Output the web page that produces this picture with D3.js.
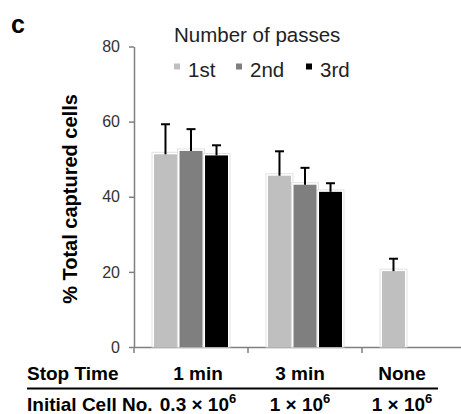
<!DOCTYPE html>
<html>
<head>
<meta charset="utf-8">
<script src="https://cdn.jsdelivr.net/npm/d3@7"></script>
<style>
  body { margin: 0; background: #fff; }
  svg { display: block; font-family: "Liberation Sans", Arial, sans-serif; }
</style>
</head>
<body>
<div id="chart"></div>
<script>
// data
var categories = ["1 min", "3 min", "None"];
var series = ["1st", "2nd", "3rd"];
var colors = ["#bfbfbf", "#7f7f7f", "#000000"];
var means = [
	[51.3, 45.6, 20.2],   /*1st pass*/
	[52.2, 43.2, null],   /*2nd pass*/
	[51.0, 41.3, null]    /*3rd pass*/
];
var errors = [
	[8.0, 6.5, 3.3],
	[5.8, 4.5, null],
	[2.7, 2.3, null]
];
var yTicks = [0, 20, 40, 60, 80];
var cellNo = [["0.3 × 10", "6"], ["1 × 10", "6"], ["1 × 10", "6"]];

var W = 461, H = 414;
var svg = d3.select("#chart").append("svg")
	.attr("width", W)
	.attr("height", H);
svg.append("rect").attr("width", W).attr("height", H).attr("fill", "#fff");

var y = d3.scaleLinear().domain([0, 80]).range([347, 46.5]);
var x0 = d3.scaleBand().domain(categories).range([134, 476]);
var x1 = d3.scaleBand().domain(series).range([20, 94]).paddingInner(0.1);
var xTable = d3.scalePoint().domain(categories).range([198, 402]);

// panel letter
svg.append("text").attr("x", 11).attr("y", 33)
	.attr("font-size", 25).attr("font-weight", "bold").text("c");

// y axis
var yAxis = svg.append("g").attr("transform", "translate(134,0)")
	.call(d3.axisLeft(y).tickValues(yTicks).tickSize(5).tickPadding(9).tickSizeOuter(0));
yAxis.select(".domain").attr("stroke", "#7f7f7f").attr("stroke-width", 1.5);
yAxis.selectAll(".tick line").attr("stroke", "#7f7f7f").attr("stroke-width", 1.5);
yAxis.selectAll(".tick text").attr("font-size", 16).attr("fill", "#333")
	.attr("font-family", "Liberation Sans, Arial, sans-serif");

// x axis
var xAxis = svg.append("g").attr("transform", "translate(0,347)")
	.call(d3.axisBottom(x0).tickValues([]).tickSizeOuter(0));
xAxis.select(".domain").attr("stroke", "#7f7f7f").attr("stroke-width", 1.5);
xAxis.selectAll(".sep").data(categories).enter().append("line")
	.attr("x1", function (d) { return x0(d); })
	.attr("x2", function (d) { return x0(d); })
	.attr("y1", 0).attr("y2", 6)
	.attr("stroke", "#7f7f7f").attr("stroke-width", 1.5);

// y label
svg.append("text")
	.attr("transform", "translate(77,199) rotate(-90)")
	.attr("text-anchor", "middle")
	.attr("font-size", 20).attr("font-weight", "bold")
	.text("% Total captured cells");

// bars
var barData = [];
series.forEach(function (s, i) {
	categories.forEach(function (c, j) {
		if (means[i][j] != null) {
			barData.push({ s: s, c: c, i: i, v: means[i][j], e: errors[i][j] });
		}
	});
});

var bars = svg.append("g");
bars.selectAll(".halo").data(barData).enter().append("rect")
	.attr("x", function (d) { return x0(d.c) + x1(d.s) - 2; })
	.attr("y", function (d) { return y(d.v) - 2; })
	.attr("width", x1.bandwidth() + 4)
	.attr("height", function (d) { return y(0) - y(d.v) + 2; })
	.attr("fill", "#fff").attr("stroke", "#e2e2e2").attr("stroke-width", 1);
bars.selectAll(".bar").data(barData).enter().append("rect")
	.attr("x", function (d) { return x0(d.c) + x1(d.s); })
	.attr("y", function (d) { return y(d.v); })
	.attr("width", x1.bandwidth())
	.attr("height", function (d) { return y(0) - y(d.v); })
	.attr("fill", function (d) { return colors[d.i]; });

// error bars (upper only)
var errG = svg.append("g").attr("stroke", "#000").attr("stroke-width", 2);
barData.forEach(function (d) {
	var cx = x0(d.c) + x1(d.s) + x1.bandwidth() / 2;
	errG.append("line").attr("x1", cx).attr("x2", cx)
		.attr("y1", y(d.v)).attr("y2", y(d.v + d.e));
	errG.append("line").attr("x1", cx - 4.5).attr("x2", cx + 4.5)
		.attr("y1", y(d.v + d.e)).attr("y2", y(d.v + d.e));
});

// legend
svg.append("text").attr("x", 174).attr("y", 42)
	.attr("font-size", 20.5).attr("fill", "#222").text("Number of passes");
var legX = [174, 236, 306];
var leg = svg.selectAll(".leg").data(series).enter().append("g")
	.attr("transform", function (d, i) { return "translate(" + legX[i] + ",0)"; });
leg.append("rect").attr("x", 0).attr("y", 63.5).attr("width", 6).attr("height", 6)
	.attr("fill", function (d, i) { return colors[i]; });
leg.append("text").attr("x", 14).attr("y", 77)
	.attr("font-size", 20.5).attr("fill", "#222").text(function (d) { return d; });

// table under the axis
svg.append("text").attr("x", 27).attr("y", 380)
	.attr("font-size", 19).attr("font-weight", "bold").text("Stop Time");
svg.selectAll(".stop").data(categories).enter().append("text")
	.attr("x", function (d) { return xTable(d); }).attr("y", 380)
	.attr("text-anchor", "middle")
	.attr("font-size", 19).attr("font-weight", "bold").text(function (d) { return d; });
svg.append("line").attr("x1", 27).attr("x2", 438).attr("y1", 388.5).attr("y2", 388.5)
	.attr("stroke", "#000").attr("stroke-width", 2);
svg.append("text").attr("x", 27).attr("y", 411)
	.attr("font-size", 19).attr("font-weight", "bold").text("Initial Cell No.");
var cn = svg.selectAll(".cn").data(categories).enter().append("text")
	.attr("x", function (d) { return xTable(d); }).attr("y", 411)
	.attr("text-anchor", "middle")
	.attr("font-size", 19).attr("font-weight", "bold");
cn.append("tspan").text(function (d, i) { return cellNo[i][0]; });
cn.append("tspan").attr("dy", -8).attr("font-size", 13)
	.text(function (d, i) { return cellNo[i][1]; });
</script>
</body>
</html>
